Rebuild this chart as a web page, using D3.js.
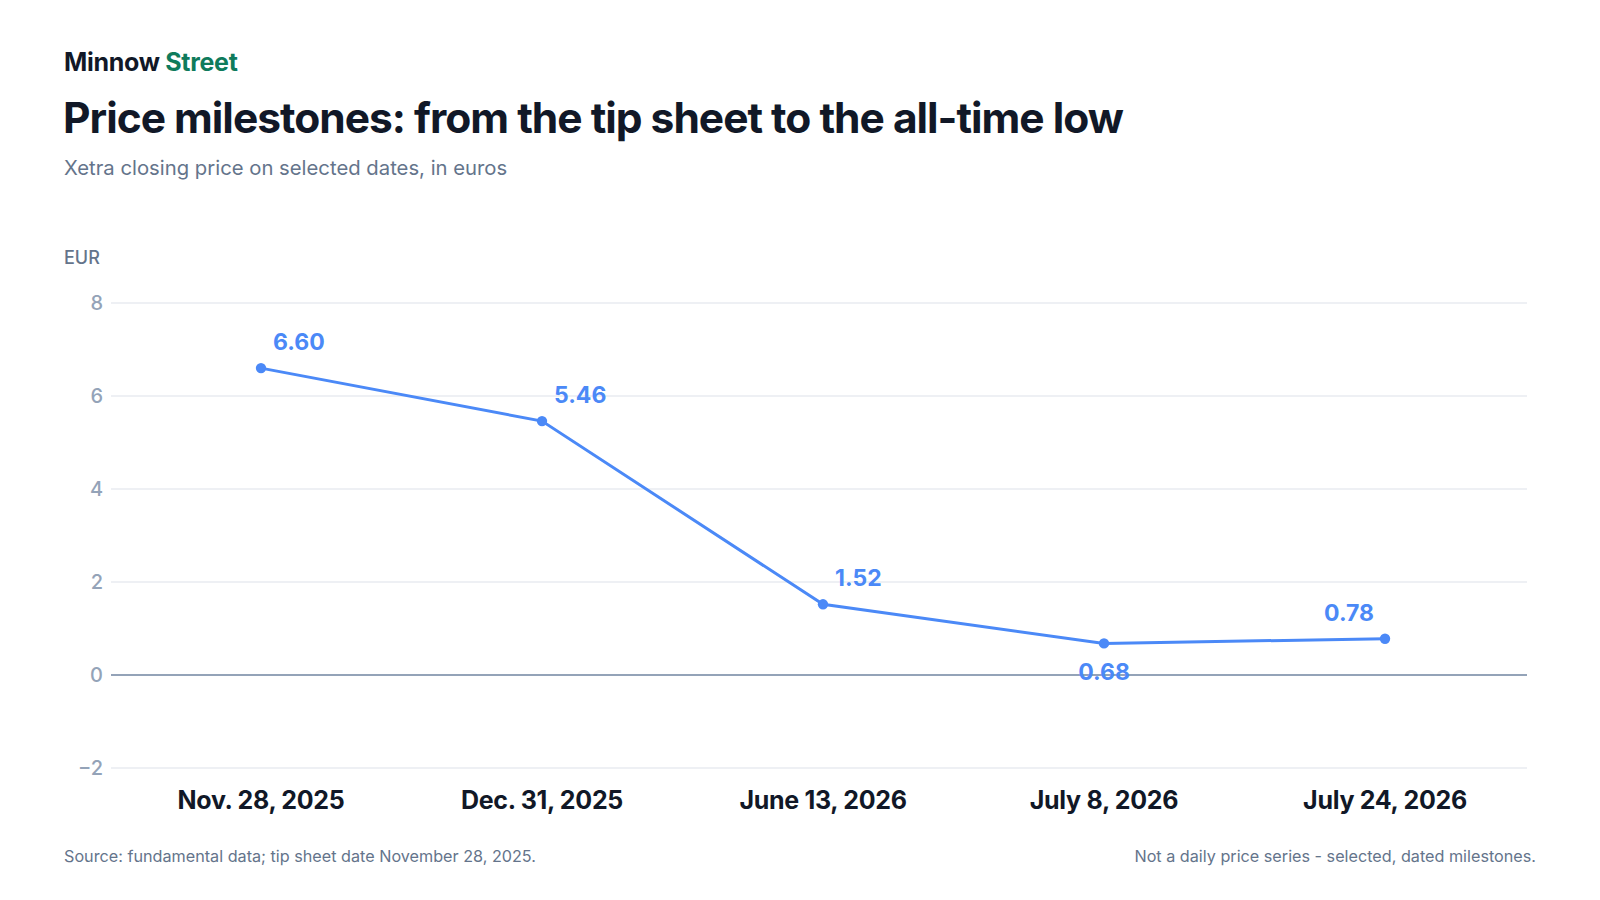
<!DOCTYPE html>
<html>
<head>
<meta charset="utf-8">
<script src="https://cdn.jsdelivr.net/npm/d3@7"></script>
<style>
  body { margin: 0; background: #fff; font-family: Inter, "Noto Sans", sans-serif; }
</style>
</head>
<body>
<div id="grafico"></div>
<script>
// data
const dates = ["Nov. 28, 2025", "Dec. 31, 2025", "June 13, 2026", "July 8, 2026", "July 24, 2026"];
const prices = [6.60, 5.46, 1.52, 0.68, 0.78];
const yTicks = [-2, 0, 2, 4, 6, 8];
// where each value label sits relative to its point
const labelSide = ["right", "right", "right", "below", "left"];

const W = 1600, H = 900;
const svg = d3.select("#grafico").append("svg")
  .attr("width", W).attr("height", H);

// header
const brand = svg.append("text").attr("x", 64).attr("y", 71)
  .style("font-size", "25px").style("font-weight", 700).style("letter-spacing", "-0.3px");
brand.append("tspan").attr("fill", "#111827").text("Minnow ");
brand.append("tspan").attr("fill", "#0f7b5c").text("Street");

svg.append("text").attr("x", 63).attr("y", 133)
  .attr("fill", "#111827").style("font-size", "42.5px").style("font-weight", 700)
  .style("letter-spacing", "-1px")
  .text("Price milestones: from the tip sheet to the all-time low");

svg.append("text").attr("x", 64).attr("y", 175)
  .attr("fill", "#64748b").style("font-size", "20.3px")
  .text("Xetra closing price on selected dates, in euros");

svg.append("text").attr("x", 64).attr("y", 264)
  .attr("fill", "#64748b").style("font-size", "18px").style("font-weight", 500)
  .text("EUR");

// scales
const left = 111, right = 1527;
const x = d3.scaleBand().domain(dates).range([120.5, 1525.5]);
const y = d3.scaleLinear().domain([-2, 8]).range([768, 303]);

// grid
svg.append("g").selectAll("line").data(yTicks).enter().append("line")
  .attr("x1", left).attr("x2", right)
  .attr("y1", d => y(d)).attr("y2", d => y(d))
  .attr("stroke", d => d === 0 ? "#94a3b8" : "#e8ebf0")
  .attr("stroke-width", d => d === 0 ? 2 : 1.3);

// y axis
const yAxis = svg.append("g").attr("transform", `translate(${left},0)`)
  .call(d3.axisLeft(y).tickValues(yTicks).tickSize(0).tickPadding(8)
    .tickFormat(d => d < 0 ? "\u2212" + Math.abs(d) : d));
yAxis.select(".domain").remove();
yAxis.selectAll("text").attr("fill", "#94a3b8")
  .style("font-size", "20px").style("font-family", "Inter, sans-serif").style("font-weight", 500);

// x axis
const xAxis = svg.append("g").attr("transform", "translate(0,783)")
  .call(d3.axisBottom(x).tickSize(0).tickPadding(8));
xAxis.select(".domain").remove();
xAxis.selectAll("text").attr("fill", "#111827")
  .style("font-size", "25px").style("font-family", "Inter, sans-serif").style("font-weight", 700)
  .style("letter-spacing", "-0.3px");

// line
const cx = d => x(d) + x.bandwidth() / 2;
const pts = dates.map((d, i) => ({ date: d, price: prices[i], side: labelSide[i] }));

svg.append("path").datum(pts)
  .attr("fill", "none").attr("stroke", "#4b89f7").attr("stroke-width", 3)
  .attr("d", d3.line().x(d => cx(d.date)).y(d => y(d.price)));

svg.append("g").selectAll("circle").data(pts).enter().append("circle")
  .attr("cx", d => cx(d.date)).attr("cy", d => y(d.price)).attr("r", 5.2)
  .attr("fill", "#4b89f7");

svg.append("g").selectAll("text").data(pts).enter().append("text")
  .attr("x", d => d.side === "right" ? cx(d.date) + 12 : d.side === "left" ? cx(d.date) - 11 : cx(d.date))
  .attr("y", d => d.side === "below" ? y(d.price) + 37 : y(d.price) - 18)
  .attr("text-anchor", d => d.side === "right" ? "start" : d.side === "left" ? "end" : "middle")
  .attr("fill", "#4b89f7").style("font-size", "23px").style("font-weight", 700)
  .text(d => d.price.toFixed(2));

// footer
svg.append("text").attr("x", 64).attr("y", 862)
  .attr("fill", "#64748b").style("font-size", "16.2px")
  .text("Source: fundamental data; tip sheet date November 28, 2025.");

svg.append("text").attr("x", 1536).attr("y", 862).attr("text-anchor", "end")
  .attr("fill", "#64748b").style("font-size", "16.2px")
  .text("Not a daily price series - selected, dated milestones.");
</script>
</body>
</html>
